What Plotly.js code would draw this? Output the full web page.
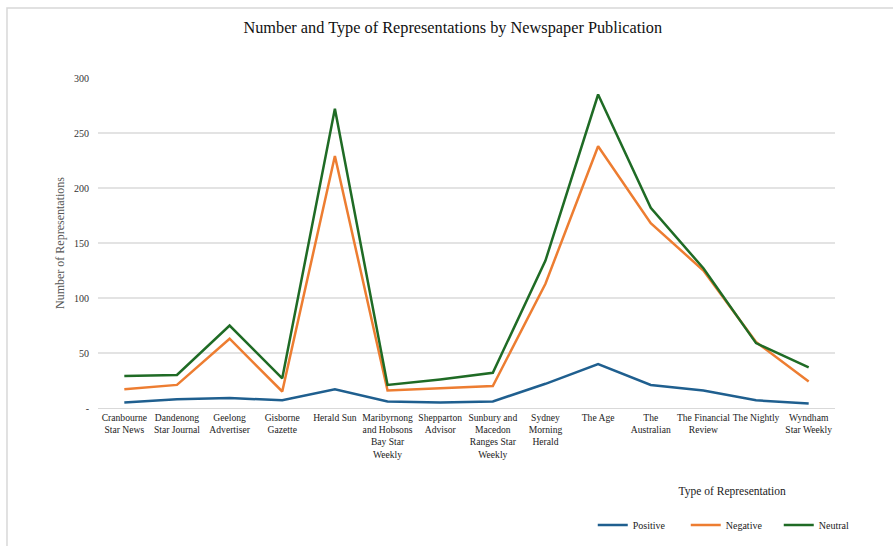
<!DOCTYPE html>
<html><head><meta charset="utf-8">
<script src="https://cdn.plot.ly/plotly-3.0.1.min.js"></script>
<style>html,body{margin:0;padding:0;background:#fff}#chart{width:893px;height:546px}</style>
</head><body><div id="chart"></div>
<script>
const categories = ["Cranbourne<br>Star News","Dandenong<br>Star Journal","Geelong<br>Advertiser","Gisborne<br>Gazette","Herald Sun","Maribyrnong<br>and Hobsons<br>Bay Star<br>Weekly","Shepparton<br>Advisor","Sunbury and<br>Macedon<br>Ranges Star<br>Weekly","Sydney<br>Morning<br>Herald","The Age","The<br>Australian","The Financial<br>Review","The Nightly","Wyndham<br>Star Weekly"];
const positive = [5, 8, 9, 7, 17, 6, 5, 6, 22, 40, 21, 16, 7, 4];
const negative = [17, 21, 63, 15, 229, 16, 18, 20, 113, 238, 168, 125, 60, 24];
const neutral  = [29, 30, 75, 27, 272, 21, 26, 32, 134, 285, 182, 127, 59, 37];
const yTickVals = [0, 50, 100, 150, 200, 250, 300];
const yTickText = ["-", "50", "100", "150", "200", "250", "300"];

const serif = "Liberation Serif, Times New Roman, serif";
const mk = (name, y, color) => ({type:"scatter", mode:"lines", name, x:categories, y,
  line:{color, width:2.5}});
const data = [mk("Positive", positive, "#1f5f8f"), mk("Negative", negative, "#ed7d31"), mk("Neutral", neutral, "#1f6b25")];
const layout = {
  width:893, height:546,
  margin:{l:98, r:58, t:78, b:138},
  paper_bgcolor:"#fff", plot_bgcolor:"#fff",
  font:{family:serif, color:"#333"},
  title:{text:"Number and Type of Representations by Newspaper Publication", x:0.507, xanchor:"center", y:0.95, yanchor:"middle", font:{family:serif, size:16.3, color:"#111"}},
  xaxis:{type:"category", range:[-0.5, categories.length - 0.5], tickfont:{family:serif, size:9.6, color:"#222"}, showgrid:false, showline:true, linecolor:"#d9d9d9", ticks:"", automargin:false},
  yaxis:{range:[0,300], tickvals:yTickVals, ticktext:yTickText, tickfont:{family:serif, size:10, color:"#333"}, gridcolor:"#e3e3e3", gridwidth:1.5, zeroline:false, ticks:"", ticklen:0, ticklabelstandoff:8, automargin:false,
    title:{text:"Number of Representations", font:{family:serif, size:12, color:"#555"}, standoff:6}},
  showlegend:true,
  legend:{orientation:"h", xref:"container", yref:"container", x:0.82, xanchor:"center", y:0.12, yanchor:"top", bgcolor:"rgba(0,0,0,0)", font:{family:serif, size:10, color:"#222"},
    title:{text:"Type of Representation<br> ", side:"top center", font:{family:serif, size:11.5, color:"#222"}}, itemwidth:30, traceorder:"normal", entrywidth:48},
  shapes:[{type:"rect", xref:"paper", yref:"paper", x0:-0.1235, x1:1.2, y0:-0.6, y1:1.212, line:{color:"#d8d8d8", width:1.5}}]
};
Plotly.newPlot("chart", data, layout, {displayModeBar:false, staticPlot:true});
</script></body></html>
